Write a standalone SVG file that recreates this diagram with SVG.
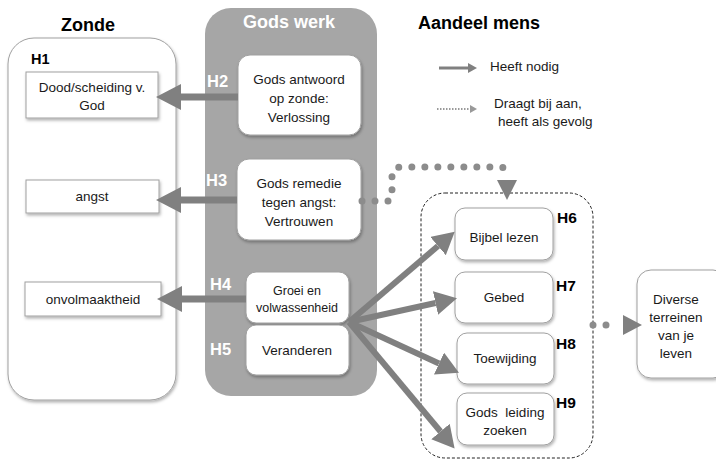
<svg xmlns="http://www.w3.org/2000/svg" width="716" height="459" viewBox="0 0 716 459">
<defs>
<filter id="sh" x="-20%" y="-20%" width="140%" height="140%"><feDropShadow dx="1" dy="2" stdDeviation="1.5" flood-color="#000" flood-opacity="0.3"/></filter>
<marker id="big" markerUnits="userSpaceOnUse" markerWidth="26" markerHeight="28" refX="0" refY="13" orient="auto"><path d="M0,0 L25,13 L0,26 z" fill="#808080"/></marker>
<marker id="fan" markerUnits="userSpaceOnUse" markerWidth="24" markerHeight="26" refX="0" refY="12" orient="auto"><path d="M0,0 L22,12 L0,24 z" fill="#808080"/></marker>
<marker id="leg" markerUnits="userSpaceOnUse" markerWidth="12" markerHeight="12" refX="0" refY="5" orient="auto"><path d="M0,0 L9,5 L0,10 z" fill="#808080"/></marker>
<marker id="legd" markerUnits="userSpaceOnUse" markerWidth="10" markerHeight="10" refX="0" refY="4" orient="auto"><path d="M0,0 L7,4 L0,8 z" fill="#999"/></marker>
</defs>
<style>
text{font-family:"Liberation Sans",Arial,sans-serif;}
.t{font-size:13.5px;fill:#1a1a1a;text-anchor:middle;}
.lt{font-size:13.5px;fill:#1a1a1a;}
.title{font-size:18px;font-weight:bold;fill:#000;}
.h{font-size:15.5px;font-weight:bold;fill:#000;}
.hw{font-size:16.5px;font-weight:bold;fill:#fff;}
.box{fill:#fff;stroke:#a0a0a0;stroke-width:1;filter:url(#sh);}
.rbox{fill:#fff;stroke:#a0a0a0;stroke-width:1;filter:url(#sh);}
.arr{stroke:#808080;stroke-width:7;fill:none;}
.farr{stroke:#808080;stroke-width:6;fill:none;}
.dots{stroke:#8c8c8c;stroke-width:7;stroke-linecap:round;stroke-dasharray:0 13;fill:none;}
</style>

<g id="titles">
<text class="title" x="88" y="31" text-anchor="middle">Zonde</text>
<text class="title" x="418" y="29">Aandeel mens</text>
</g>

<g id="zonde">
<rect x="8" y="38" width="168" height="362" rx="26" class="rbox"/>
<text class="h" x="31" y="64" style="font-size:14.5px">H1</text>
</g>

<g id="godswerk">
<rect x="205" y="8" width="172" height="388" rx="26" fill="#a6a6a6"/>
<text class="title" x="289" y="28" text-anchor="middle" style="fill:#fff">Gods werk</text>
</g>

<g id="dood">
<rect x="26" y="72" width="132" height="46" class="box"/>
<text class="t" x="92" y="92">Dood/scheiding v.</text>
<text class="t" x="92" y="110">God</text>
</g>
<g id="angst">
<rect x="26" y="180" width="133" height="33" class="box"/>
<text class="t" x="92" y="201">angst</text>
</g>
<g id="onvolmaaktheid">
<rect x="25" y="282" width="136" height="34" class="box"/>
<text class="t" x="93" y="304">onvolmaaktheid</text>
</g>

<g id="h2">
<rect x="238" y="55" width="123" height="80" rx="12" class="rbox"/>
<text class="hw" x="207" y="87">H2</text>
<text class="t" x="299" y="84">Gods antwoord</text>
<text class="t" x="299" y="103">op zonde:</text>
<text class="t" x="299" y="122">Verlossing</text>
</g>
<g id="h3">
<rect x="237" y="159" width="124" height="81" rx="12" class="rbox"/>
<text class="hw" x="206" y="186">H3</text>
<text class="t" x="299" y="188">Gods remedie</text>
<text class="t" x="299" y="207">tegen angst:</text>
<text class="t" x="299" y="226">Vertrouwen</text>
</g>
<g id="h4">
<rect x="246" y="272" width="103" height="51" rx="10" class="rbox"/>
<text class="hw" x="210" y="290">H4</text>
<text class="t" x="297" y="295" style="font-size:12.5px">Groei en</text>
<text class="t" x="297" y="312" style="font-size:12.5px">volwassenheid</text>
</g>
<g id="h5">
<rect x="246" y="325" width="103" height="50" rx="10" class="rbox"/>
<text class="hw" x="210" y="355">H5</text>
<text class="t" x="297" y="355">Veranderen</text>
</g>

<g id="groep">
<rect x="421" y="193" width="172" height="265" rx="24" fill="none" stroke="#222" stroke-width="1" stroke-dasharray="3 2"/>
</g>

<g id="h6">
<rect x="455" y="208" width="98" height="52" rx="10" class="rbox"/>
<text class="h" x="557" y="223">H6</text>
<text class="t" x="504" y="242">Bijbel lezen</text>
</g>
<g id="h7">
<rect x="455" y="272" width="98" height="51" rx="10" class="rbox"/>
<text class="h" x="556" y="291">H7</text>
<text class="t" x="504" y="302">Gebed</text>
</g>
<g id="h8">
<rect x="457" y="333" width="97" height="51" rx="10" class="rbox"/>
<text class="h" x="556" y="349">H8</text>
<text class="t" x="505" y="363">Toewijding</text>
</g>
<g id="h9">
<rect x="457" y="393" width="97" height="52" rx="10" class="rbox"/>
<text class="h" x="556" y="408">H9</text>
<text class="t" x="505" y="417" xml:space="preserve">Gods  leiding</text>
<text class="t" x="505" y="435">zoeken</text>
</g>

<g id="diverse">
<rect x="637" y="270" width="90" height="108" rx="14" class="rbox"/>
<text class="t" x="676" y="304">Diverse</text>
<text class="t" x="676" y="322">terreinen</text>
<text class="t" x="676" y="340">van je</text>
<text class="t" x="676" y="358">leven</text>
</g>

<g id="legend">
<line x1="439" y1="68" x2="468" y2="68" stroke="#808080" stroke-width="3" marker-end="url(#leg)"/>
<text class="lt" x="490" y="71">Heeft nodig</text>
<line x1="437" y1="109" x2="470" y2="109" stroke="#999" stroke-width="2" stroke-dasharray="1.5 1.5" marker-end="url(#legd)"/>
<text class="lt" x="494" y="108">Draagt bij aan,</text>
<text class="lt" x="498" y="126">heeft als gevolg</text>
</g>

<g id="connectors">
<line class="arr" x1="238" y1="97" x2="181" y2="97" marker-end="url(#big)"/>
<line class="arr" x1="237" y1="200" x2="181" y2="200" marker-end="url(#big)"/>
<line class="arr" x1="246" y1="299" x2="182" y2="299" marker-end="url(#big)"/>
<line class="farr" x1="349" y1="322" x2="438" y2="246" marker-end="url(#fan)"/>
<line class="farr" x1="349" y1="322" x2="435.5" y2="303" marker-end="url(#fan)"/>
<line class="farr" x1="349" y1="322" x2="439" y2="363.5" marker-end="url(#fan)"/>
<line class="farr" x1="349" y1="322" x2="440.5" y2="431.5" marker-end="url(#fan)"/>
<path class="dots" d="M362,201 L388,201 Q392,201 392,194 L392,176 Q392,167 402,167 L500,167 Q507,167 507,176"/>
<path d="M497,180 L517,180 L507,200 z" fill="#808080"/>
<path class="dots" d="M593,325 L618,325"/>
<path d="M623,315 L642,325 L623,335 z" fill="#808080"/>
</g>
</svg>
